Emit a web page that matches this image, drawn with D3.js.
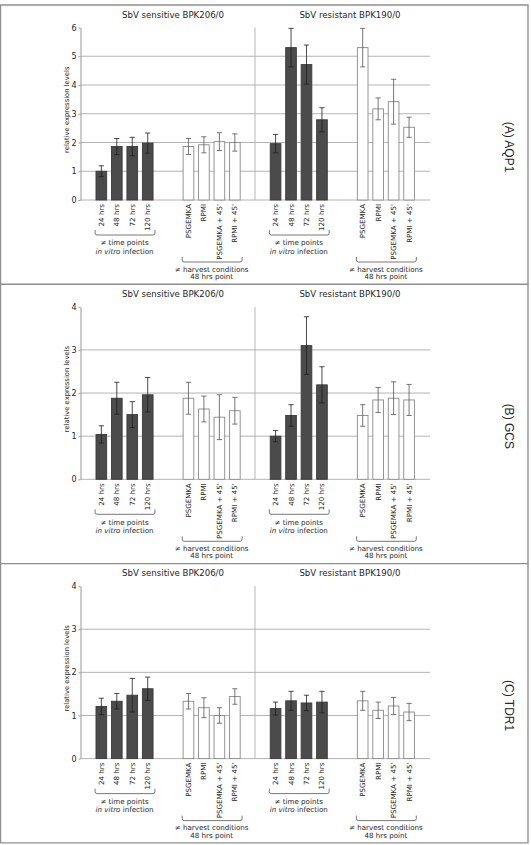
<!DOCTYPE html>
<html>
<head>
<meta charset="utf-8">
<script src="https://cdn.jsdelivr.net/npm/d3@7"></script>
<style>
  body { margin: 0; background: #fff; }
  svg { display: block; }
  text { font-family: "DejaVu Sans", Verdana, sans-serif; fill: #262626; }
</style>
</head>
<body>
<svg width="531" height="845"></svg>
<script>
// Categories and labels
const strains = ["SbV sensitive BPK206/0", "SbV resistant BPK190/0"];
const timeLabels = ["24 hrs", "48 hrs", "72 hrs", "120 hrs"];
const harvestLabels = ["PSGEMKA", "RPMI", "PSGEMKA + 45'", "RPMI + 45'"];
const genes = ["(A) AQP1", "(B) GCS", "(C) TDR1"];
const yMax = [6, 4, 4];

// groups: sensitive time, sensitive harvest, resistant time, resistant harvest
const groups = ["sensTime", "sensHarvest", "resTime", "resHarvest"];

// Values (mean and +/- error)
const aqp1Mean = [1.00, 1.86, 1.86, 1.98, 1.86, 1.92, 2.03, 2.00, 1.96, 5.30, 4.71, 2.79, 5.30, 3.17, 3.42, 2.53];
const aqp1Err  = [0.19, 0.28, 0.32, 0.35, 0.28, 0.28, 0.31, 0.30, 0.32, 0.67, 0.68, 0.42, 0.67, 0.38, 0.78, 0.35];
const gcsMean  = [1.04, 1.88, 1.50, 1.96, 1.88, 1.63, 1.44, 1.59, 1.00, 1.48, 3.10, 2.19, 1.48, 1.84, 1.88, 1.84];
const gcsErr   = [0.20, 0.37, 0.30, 0.40, 0.37, 0.30, 0.52, 0.31, 0.13, 0.25, 0.67, 0.42, 0.25, 0.29, 0.38, 0.36];
const tdr1Mean = [1.21, 1.33, 1.47, 1.62, 1.33, 1.18, 1.00, 1.44, 1.16, 1.34, 1.29, 1.31, 1.34, 1.12, 1.22, 1.08];
const tdr1Err  = [0.19, 0.18, 0.39, 0.27, 0.18, 0.23, 0.18, 0.18, 0.15, 0.22, 0.18, 0.25, 0.22, 0.19, 0.20, 0.20];

const means = [aqp1Mean, gcsMean, tdr1Mean];
const errs = [aqp1Err, gcsErr, tdr1Err];

const svg = d3.select("svg");
const panelTop = 5, panelH = 279.3;
const axisX = 80.5, gridEnd = 430, dividerX = 255;

// Scales for the x positions
const xGroup = d3.scaleBand().domain(groups).range([93.6, 416.8]).paddingInner(0.29).paddingOuter(0);
const xBar = d3.scaleBand().domain(d3.range(4)).range([0, xGroup.bandwidth()]).paddingInner(0.31).paddingOuter(0.155);

genes.forEach((gene, p) => {
    const g = svg.append("g").attr("transform", `translate(0,${panelTop + p * panelH})`);
    const y = d3.scaleLinear().domain([0, yMax[p]]).range([195, 22.5]);

    // Strain titles
    g.selectAll(".title")
        .data(strains)
        .enter().append("text")
        .attr("x", (d, i) => i === 0 ? 173 : 350)
        .attr("y", 12.5)
        .attr("text-anchor", "middle")
        .style("font-size", "8.6px")
        .text(d => d);

    // Gridlines (skip the top tick)
    g.selectAll(".grid")
        .data(d3.range(0, yMax[p]))
        .enter().append("line")
        .attr("x1", axisX).attr("x2", gridEnd)
        .attr("y1", d => y(d)).attr("y2", d => y(d))
        .attr("stroke", "#ababab")
        .attr("stroke-width", 0.9);

    // Divider between strains
    g.append("line")
        .attr("x1", dividerX).attr("x2", dividerX)
        .attr("y1", y(yMax[p])).attr("y2", y(0))
        .attr("stroke", "#b0b0b0")
        .attr("stroke-width", 0.9);

    // Y axis
    const axis = g.append("g")
        .attr("transform", `translate(${axisX},0)`)
        .call(d3.axisLeft(y).ticks(yMax[p]).tickSize(2).tickSizeOuter(0).tickPadding(2));
    axis.select(".domain").attr("stroke", "#999");
    axis.selectAll(".tick line").attr("stroke", "#999");
    axis.selectAll(".tick text")
        .style("font-size", "8px")
        .style("font-family", "DejaVu Sans, sans-serif")
        .attr("fill", "#262626");

    g.append("text")
        .attr("transform", `translate(68.5,${(y(0) + y(yMax[p])) / 2 - 4}) rotate(-90)`)
        .attr("text-anchor", "middle")
        .style("font-size", "6.8px")
        .text("relative expression levels");

    // Bars
    groups.forEach((grp, gi) => {
        const isTime = gi % 2 === 0;
        const labels = isTime ? timeLabels : harvestLabels;
        const rows = labels.map((lab, i) => ({
            lab, i,
            mean: means[p][gi * 4 + i],
            err: errs[p][gi * 4 + i]
        }));
        const gg = g.append("g").attr("transform", `translate(${xGroup(grp)},0)`);

        gg.selectAll("rect")
            .data(rows)
            .enter().append("rect")
            .attr("x", d => xBar(d.i))
            .attr("width", xBar.bandwidth())
            .attr("y", d => y(d.mean))
            .attr("height", d => y(0) - y(d.mean))
            .attr("fill", isTime ? "#4b4b4b" : "#fff")
            .attr("stroke", isTime ? "#3a3a3a" : "#8a8a8a")
            .attr("stroke-width", 0.9);

        const cx = d => xBar(d.i) + xBar.bandwidth() / 2;
        gg.selectAll(".eb")
            .data(rows)
            .enter().append("path")
            .attr("d", d => {
                const x = cx(d), t = y(d.mean + d.err), b = y(d.mean - d.err);
                return `M${x - 2.6},${t}H${x + 2.6}M${x},${t}V${b}M${x - 2.6},${b}H${x + 2.6}`;
            })
            .attr("fill", "none")
            .attr("stroke", isTime ? "#1e1e1e" : "#555")
            .attr("stroke-width", 0.8);

        // Category labels, rotated
        gg.selectAll(".lab")
            .data(rows)
            .enter().append("text")
            .attr("transform", d => `translate(${cx(d) + 2.5},${y(0) + 4}) rotate(-90)`)
            .attr("text-anchor", "end")
            .style("font-size", "7.1px")
            .text(d => d.lab);

        // Bracket
        const x0 = 1.5, x1 = xGroup.bandwidth() - 0.5;
        const top = isTime ? 225 : 252, bot = top + 5;
        gg.append("path")
            .attr("d", `M${x0},${top}V${bot - 2}Q${x0},${bot} ${x0 + 2},${bot}H${x1 - 2}Q${x1},${bot} ${x1},${bot - 2}V${top}`)
            .attr("fill", "none")
            .attr("stroke", "#555")
            .attr("stroke-width", 0.8);

        const mid = xGroup.bandwidth() / 2;
        if (isTime) {
            gg.append("text").attr("x", mid).attr("y", bot + 10.3)
                .attr("text-anchor", "middle").style("font-size", "7.1px").text("\u2260 time points");
            const t2 = gg.append("text").attr("x", mid).attr("y", bot + 18.6)
                .attr("text-anchor", "middle").style("font-size", "7.1px");
            t2.append("tspan").style("font-style", "italic").text("in vitro");
            t2.append("tspan").text(" infection");
        } else {
            gg.append("text").attr("x", mid).attr("y", bot + 9.8)
                .attr("text-anchor", "middle").style("font-size", "7.1px").text("\u2260 harvest conditions");
            gg.append("text").attr("x", mid).attr("y", bot + 17.2)
                .attr("text-anchor", "middle").style("font-size", "7.1px").text("48 hrs point");
        }
    });

    // Gene label on the right
    g.append("text")
        .attr("transform", `translate(504.5,142) rotate(90)`)
        .attr("text-anchor", "middle")
        .style("font-family", "Liberation Sans, Arial, sans-serif")
        .style("font-size", "12px")
        .attr("fill", "#222")
        .text(gene);

    // Panel frame line at the top of each panel
    g.append("line")
        .attr("x1", 0).attr("x2", 528.5)
        .attr("y1", 0).attr("y2", 0)
        .attr("stroke", "#8f8f8f")
        .attr("stroke-width", 1.4);
});

// Outer frame: right and bottom edges, left edge
const bottom = panelTop + 3 * panelH;
svg.append("path")
    .attr("d", `M528,${panelTop}V${bottom}H0.5V${panelTop}`)
    .attr("fill", "none")
    .attr("stroke", "#8f8f8f")
    .attr("stroke-width", 1.4);
</script>
</body>
</html>
